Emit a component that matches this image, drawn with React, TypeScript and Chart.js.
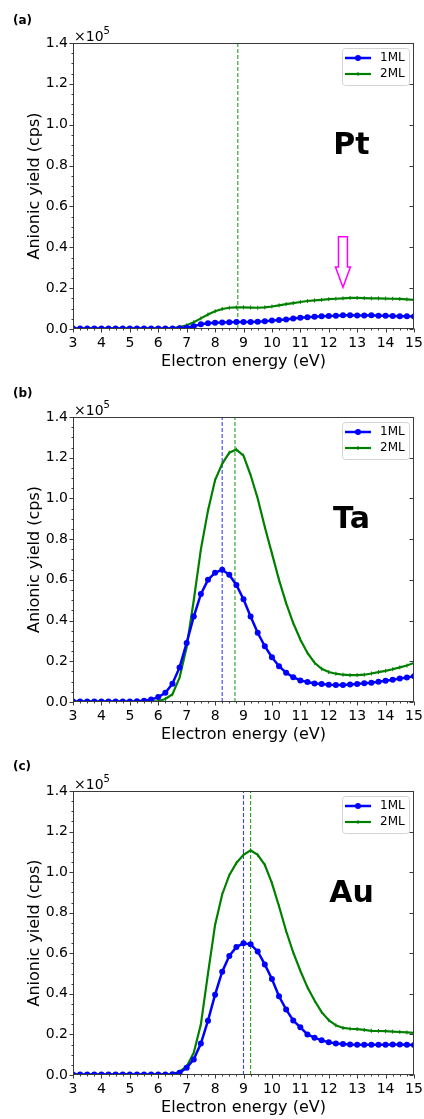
import React, { useEffect, useRef } from 'react';
import { Chart, registerables } from 'chart.js';

Chart.register(...registerables);

const FONT = '"DejaVu Sans", sans-serif';

// Electron energy grid (eV)
const ENERGY = [
  3, 3.25, 3.5, 3.75,
  4, 4.25, 4.5, 4.75,
  5, 5.25, 5.5, 5.75,
  6, 6.25, 6.5, 6.75,
  7, 7.25, 7.5, 7.75,
  8, 8.25, 8.5, 8.75,
  9, 9.25, 9.5, 9.75,
  10, 10.25, 10.5, 10.75,
  11, 11.25, 11.5, 11.75,
  12, 12.25, 12.5, 12.75,
  13, 13.25, 13.5, 13.75,
  14, 14.25, 14.5, 14.75,
  15,
];

// Anionic yield in units of 1e5 cps
const PT_1ML = [
  0.003, 0.003, 0.003, 0.003,
  0.003, 0.003, 0.003, 0.003,
  0.003, 0.003, 0.003, 0.003,
  0.003, 0.003, 0.003, 0.004,
  0.006, 0.014, 0.023, 0.028,
  0.031, 0.032, 0.033, 0.034,
  0.034, 0.034, 0.036, 0.038,
  0.041, 0.044, 0.047, 0.051,
  0.055, 0.058, 0.060, 0.062,
  0.064, 0.065, 0.067, 0.067,
  0.066, 0.066, 0.067, 0.065,
  0.065, 0.064, 0.063, 0.063,
  0.061,
];
const PT_2ML = [
  0.002, 0.002, 0.002, 0.002,
  0.002, 0.002, 0.002, 0.002,
  0.002, 0.002, 0.002, 0.002,
  0.002, 0.003, 0.005, 0.009,
  0.018, 0.033, 0.052, 0.071,
  0.087, 0.098, 0.104, 0.106,
  0.106, 0.105, 0.104, 0.106,
  0.110, 0.116, 0.122, 0.127,
  0.132, 0.137, 0.140, 0.143,
  0.146, 0.148, 0.150, 0.152,
  0.152, 0.151, 0.150, 0.150,
  0.149, 0.148, 0.147, 0.145,
  0.143,
];
const TA_1ML = [
  0.003, 0.003, 0.003, 0.003,
  0.003, 0.003, 0.003, 0.003,
  0.003, 0.004, 0.006, 0.012,
  0.024, 0.045, 0.090, 0.170,
  0.290, 0.420, 0.530, 0.600,
  0.635, 0.650, 0.625, 0.575,
  0.505, 0.420, 0.340, 0.274,
  0.220, 0.176, 0.144, 0.122,
  0.106, 0.098, 0.091, 0.088,
  0.085, 0.083, 0.083, 0.086,
  0.089, 0.092, 0.095, 0.099,
  0.104, 0.109, 0.115, 0.120,
  0.126,
];
const TA_2ML = [
  0.002, 0.002, 0.002, 0.002,
  0.002, 0.002, 0.002, 0.002,
  0.002, 0.002, 0.002, 0.003,
  0.005, 0.015, 0.038, 0.120,
  0.270, 0.500, 0.750, 0.940,
  1.090, 1.170, 1.225, 1.240,
  1.210, 1.115, 1.000, 0.860,
  0.730, 0.600, 0.486, 0.388,
  0.307, 0.241, 0.193, 0.163,
  0.147, 0.139, 0.134, 0.132,
  0.132, 0.134, 0.140, 0.147,
  0.153, 0.161, 0.170, 0.179,
  0.192,
];
const AU_1ML = [
  0.003, 0.003, 0.003, 0.003,
  0.003, 0.003, 0.003, 0.003,
  0.003, 0.003, 0.003, 0.003,
  0.003, 0.003, 0.004, 0.011,
  0.036, 0.077, 0.155, 0.268,
  0.396, 0.509, 0.587, 0.631,
  0.649, 0.644, 0.609, 0.545,
  0.473, 0.388, 0.323, 0.269,
  0.235, 0.200, 0.184, 0.171,
  0.161, 0.155, 0.153, 0.150,
  0.149, 0.149, 0.149, 0.149,
  0.149, 0.150, 0.150, 0.149,
  0.148,
];
const AU_2ML = [
  0.002, 0.002, 0.002, 0.002,
  0.002, 0.002, 0.002, 0.002,
  0.002, 0.002, 0.002, 0.002,
  0.002, 0.003, 0.005, 0.016,
  0.042, 0.110, 0.250, 0.500,
  0.740, 0.890, 0.985, 1.045,
  1.085, 1.108, 1.085, 1.036,
  0.946, 0.832, 0.710, 0.604,
  0.514, 0.432, 0.367, 0.310,
  0.270, 0.245, 0.232, 0.228,
  0.226, 0.222, 0.218, 0.217,
  0.216, 0.214, 0.212, 0.210,
  0.208,
];

const SERIES_LABELS = ['1ML', '2ML'];
const X_MIN = 3;
const X_MAX = 15;
const Y_MIN = 0;
const Y_MAX = 1.4;
const Y_STEP = 0.2;

// peak markers (eV)
const PT_PEAKS = [{ x: 8.8, color: '#22a022' }];
const TA_PEAKS = [
  { x: 8.25, color: '#3d3dff' },
  { x: 8.7, color: '#22a022' },
];
const AU_PEAKS = [
  { x: 9.0, color: '#3d3dff' },
  { x: 9.25, color: '#22a022' },
];

const PT_ARROW = { x: 12.5, top: 0.452, neck: 0.303, tip: 0.204 };

const BLUE = '#0000ff';
const GREEN = '#008000';

type Peak = { x: number; color: string };
type Panel = {
  tag: string;
  metal: string;
  one: number[];
  two: number[];
  peaks: Peak[];
  arrow?: { x: number; top: number; neck: number; tip: number };
  top: number;
};

const PANELS: Panel[] = [
  { tag: '(a)', metal: 'Pt', one: PT_1ML, two: PT_2ML, peaks: PT_PEAKS, arrow: PT_ARROW, top: 43 },
  { tag: '(b)', metal: 'Ta', one: TA_1ML, two: TA_2ML, peaks: TA_PEAKS, top: 44 },
  { tag: '(c)', metal: 'Au', one: AU_1ML, two: AU_2ML, peaks: AU_PEAKS, top: 45 },
];

const W = 424;
const H = 373;

function makeDeco(panel: Panel) {
  return {
    id: 'deco',
    afterDraw(chart: any) {
      const { ctx, chartArea: a, scales } = chart;
      const xs = scales.x;
      const ys = scales.y;
      ctx.save();
      // spines
      ctx.strokeStyle = '#3a3a3a';
      ctx.lineWidth = 1;
      const L = Math.round(a.left) + 0.5;
      const R = Math.round(a.right) - 0.5;
      const T = Math.round(a.top) + 0.5;
      const B = Math.round(a.bottom) - 0.5;
      ctx.strokeRect(L, T, R - L, B - T);
      // y ticks
      for (let v = Y_MIN; v <= Y_MAX + 1e-9; v += 0.05) {
        const py = Math.round(ys.getPixelForValue(v)) + 0.5;
        const major = Math.abs(v / Y_STEP - Math.round(v / Y_STEP)) < 1e-6;
        ctx.beginPath();
        ctx.moveTo(L, py);
        ctx.lineTo(L - (major ? 4 : 2), py);
        if (major) {
          ctx.moveTo(R, py);
          ctx.lineTo(R - 4, py);
        }
        ctx.stroke();
      }
      // x ticks
      for (let v = X_MIN; v <= X_MAX + 1e-9; v += 0.25) {
        const px = Math.round(xs.getPixelForValue(v)) + 0.5;
        const major = Math.abs(v - Math.round(v)) < 1e-6;
        ctx.beginPath();
        ctx.moveTo(px, B);
        ctx.lineTo(px, B + (major ? 4 : 2));
        ctx.stroke();
      }
      // x10^5 offset text
      ctx.fillStyle = '#000';
      ctx.textBaseline = 'alphabetic';
      ctx.textAlign = 'left';
      ctx.font = `14px ${FONT}`;
      const base = '\u00d710';
      ctx.fillText(base, a.left + 1, a.top - 2);
      const bw = ctx.measureText(base).width;
      ctx.font = `10px ${FONT}`;
      ctx.fillText('5', a.left + 1 + bw, a.top - 9);
      // panel tag
      ctx.font = `bold 12px ${FONT}`;
      ctx.fillText(panel.tag, 13, 24);
      // metal label
      ctx.font = `bold 30px ${FONT}`;
      ctx.textAlign = 'center';
      ctx.fillText(panel.metal, xs.getPixelForValue(12.8), ys.getPixelForValue(0.855));
      // arrow
      if (panel.arrow) {
        const cx = xs.getPixelForValue(panel.arrow.x);
        const t = ys.getPixelForValue(panel.arrow.top);
        const n = ys.getPixelForValue(panel.arrow.neck);
        const p = ys.getPixelForValue(panel.arrow.tip);
        ctx.beginPath();
        ctx.moveTo(cx - 4.5, t);
        ctx.lineTo(cx + 4.5, t);
        ctx.lineTo(cx + 4.5, n);
        ctx.lineTo(cx + 7.5, n);
        ctx.lineTo(cx, p);
        ctx.lineTo(cx - 7.5, n);
        ctx.lineTo(cx - 4.5, n);
        ctx.closePath();
        ctx.strokeStyle = '#ff00ff';
        ctx.lineWidth = 1.5;
        ctx.stroke();
      }
      // legend
      const bx = a.right - 72;
      const by = a.top + 5;
      const bwid = 67;
      const bh = 37;
      ctx.beginPath();
      if (ctx.roundRect) ctx.roundRect(bx + 0.5, by + 0.5, bwid, bh, 3);
      else ctx.rect(bx + 0.5, by + 0.5, bwid, bh);
      ctx.fillStyle = 'rgba(255,255,255,0.85)';
      ctx.fill();
      ctx.strokeStyle = '#d4d4d4';
      ctx.lineWidth = 1;
      ctx.stroke();
      const rows = [by + 10, by + 26];
      const colors = [BLUE, GREEN];
      for (let i = 0; i < 2; i++) {
        const ry = rows[i];
        ctx.strokeStyle = colors[i];
        ctx.lineWidth = i === 0 ? 2.5 : 2.2;
        ctx.beginPath();
        ctx.moveTo(bx + 3, ry);
        ctx.lineTo(bx + 29, ry);
        ctx.stroke();
        if (i === 0) {
          ctx.fillStyle = BLUE;
          ctx.beginPath();
          ctx.arc(bx + 16, ry, 3, 0, Math.PI * 2);
          ctx.fill();
        } else {
          ctx.lineWidth = 1;
          ctx.beginPath();
          ctx.moveTo(bx + 16, ry - 2);
          ctx.lineTo(bx + 16, ry + 2);
          ctx.stroke();
        }
        ctx.fillStyle = '#000';
        ctx.font = `12px ${FONT}`;
        ctx.textAlign = 'left';
        ctx.textBaseline = 'middle';
        ctx.fillText(SERIES_LABELS[i], bx + 38, ry);
      }
      ctx.restore();
    },
  };
}

function PanelChart({ panel }: { panel: Panel }) {
  const ref = useRef<HTMLCanvasElement>(null);
  useEffect(() => {
    if (!ref.current) return;
    const toPts = (vals: number[]) => ENERGY.map((e, i) => ({ x: e, y: vals[i] }));
    const datasets: any[] = [
      {
        label: SERIES_LABELS[0],
        data: toPts(panel.one),
        borderColor: BLUE,
        backgroundColor: BLUE,
        borderWidth: 2.5,
        pointRadius: 3,
        pointBorderWidth: 0,
        pointBackgroundColor: BLUE,
        pointStyle: 'circle',
        tension: 0,
      },
      {
        label: SERIES_LABELS[1],
        data: toPts(panel.two),
        borderColor: GREEN,
        backgroundColor: GREEN,
        borderWidth: 2.2,
        pointRadius: 2,
        pointBorderWidth: 1,
        pointBorderColor: GREEN,
        pointStyle: 'line',
        pointRotation: 90,
        tension: 0,
      },
      ...panel.peaks.map((pk) => ({
        label: 'peak',
        data: [
          { x: pk.x, y: Y_MIN },
          { x: pk.x, y: Y_MAX },
        ],
        borderColor: pk.color,
        borderWidth: 1.1,
        borderDash: [4, 2],
        pointRadius: 0,
        tension: 0,
      })),
    ];
    const chart = new Chart(ref.current, {
      type: 'line',
      data: { datasets },
      plugins: [makeDeco(panel)],
      options: {
        animation: false,
        responsive: false,
        events: [],
        layout: { autoPadding: false, padding: { top: panel.top, right: 10, left: 0, bottom: 0 } },
        plugins: { legend: { display: false }, tooltip: { enabled: false } },
        scales: {
          x: {
            type: 'linear',
            min: X_MIN,
            max: X_MAX,
            afterFit: (s: any) => {
              s.height = 44;
              s.paddingLeft = 0;
              s.paddingRight = 0;
            },
            grid: { display: false, drawTicks: false },
            border: { display: false },
            ticks: {
              stepSize: 1,
              autoSkip: false,
              maxRotation: 0,
              padding: 6,
              color: '#000',
              font: { family: FONT, size: 14 },
              callback: (v: any) => String(v),
            },
            title: {
              display: true,
              text: 'Electron energy (eV)',
              color: '#000',
              font: { family: FONT, size: 16 },
              padding: { top: 0, bottom: 2 },
            },
          },
          y: {
            type: 'linear',
            min: Y_MIN,
            max: Y_MAX,
            afterFit: (s: any) => {
              s.width = 73;
              s.paddingTop = 0;
              s.paddingBottom = 0;
            },
            grid: { display: false, drawTicks: false },
            border: { display: false },
            ticks: {
              stepSize: Y_STEP,
              padding: 5,
              color: '#000',
              font: { family: FONT, size: 14 },
              callback: (v: any) => Number(v).toFixed(1),
            },
            title: {
              display: true,
              text: 'Anionic yield (cps)',
              color: '#000',
              font: { family: FONT, size: 16 },
              padding: { top: 25, bottom: 0 },
            },
          },
        },
      } as any,
    });
    return () => chart.destroy();
  }, [panel]);
  return (
    <canvas
      ref={ref}
      width={W}
      height={H}
      style={{ display: 'block', width: W, height: H }}
    />
  );
}

export default function App() {
  useEffect(() => {
    document.body.style.margin = '0';
    document.body.style.background = '#fff';
  }, []);
  return (
    <div style={{ width: W, background: '#fff' }}>
      {PANELS.map((p) => (
        <PanelChart key={p.tag} panel={p} />
      ))}
    </div>
  );
}
